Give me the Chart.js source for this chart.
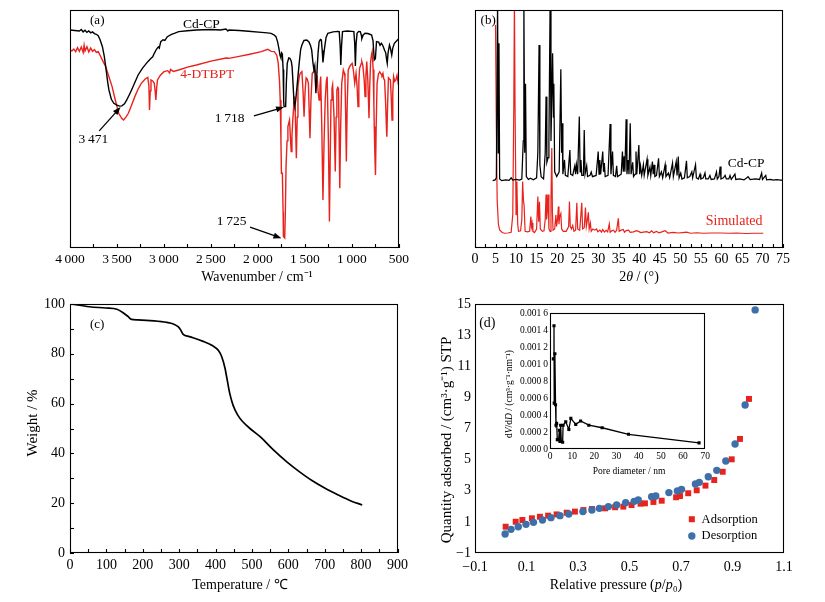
<!DOCTYPE html>
<html>
<head>
<meta charset="utf-8">
<script src="https://cdn.jsdelivr.net/npm/chart.js@4.4.1/dist/chart.umd.min.js"></script>
<style>
  html, body { margin: 0; padding: 0; background: #fff; }
  #fig { position: relative; width: 825px; height: 602px; overflow: hidden; background: #fff; }
  canvas { position: absolute; }
</style>
</head>
<body>
<div id="fig">
  <canvas id="irChart" width="412" height="290" style="left:0;top:0;width:412px;height:290px"></canvas>
  <canvas id="xrdChart" width="413" height="290" style="left:412px;top:0;width:413px;height:290px"></canvas>
  <canvas id="tgaChart" width="412" height="312" style="left:0;top:290px;width:412px;height:312px"></canvas>
  <canvas id="betChart" width="413" height="312" style="left:412px;top:290px;width:413px;height:312px"></canvas>
  <canvas id="poreChart" width="212" height="175" style="left:500px;top:305px;width:212px;height:175px"></canvas>
</div>
<script>
// (a) FTIR, [wavenumber, relative transmittance]
const irCdCP = [
  [4000, 91.6], [3950, 91.4], [3900, 91.2], [3880, 91.8], [3860, 90.8], [3840, 91.5], [3820, 90.6],
  [3800, 91.2], [3780, 90.4], [3760, 90.8], [3740, 90.1], [3720, 89.8], [3700, 89.2], [3680, 87.5],
  [3655, 84.6], [3635, 80.5], [3620, 76.2], [3600, 70], [3586, 66.4], [3560, 62.5], [3534, 60.8],
  [3500, 60.0], [3471, 59.6], [3448, 59.7], [3420, 60.6], [3396, 62.2], [3370, 64.3], [3345, 66.4],
  [3310, 69.5], [3275, 72.7], [3230, 75.5], [3172, 78.3], [3140, 79.6], [3120, 80.3], [3103, 81.8],
  [3080, 83.5], [3060, 84.5], [3050, 84], [3034, 86.7], [3010, 87.5], [2990, 87.2], [2964, 88.8],
  [2920, 89.8], [2890, 90.2], [2843, 90.9], [2750, 91.3], [2654, 91.6], [2500, 91.8], [2400, 91.6],
  [2340, 92.0], [2320, 91.2], [2309, 91.6], [2200, 91.4], [2100, 91.1], [1963, 90.6], [1900, 90.4],
  [1860, 90.2], [1830, 89.6], [1808, 88.8], [1790, 86.5], [1774, 83.2], [1765, 81], [1756, 80],
  [1748, 82], [1740, 81.5], [1732, 75], [1726, 62], [1722, 59.4], [1705, 59.4], [1697, 70],
  [1688, 77.6], [1672, 79.9], [1660, 79.7], [1645, 78.5], [1636, 76], [1625, 68], [1615, 60.5],
  [1608, 59.4], [1598, 62], [1584, 67.8], [1560, 78], [1545, 83.5], [1532, 85.3], [1510, 87.2],
  [1480, 87.4], [1455, 86.5], [1440, 85], [1428, 83.2], [1415, 78], [1404, 74.8], [1395, 76.5],
  [1390, 71], [1383, 65], [1376, 70], [1369, 76], [1360, 82], [1349, 86.7], [1335, 87.6], [1325, 87.4],
  [1316, 83], [1308, 78], [1300, 81], [1291, 84], [1275, 88.5], [1256, 90.2], [1200, 90.8],
  [1150, 91], [1135, 90.9], [1125, 85], [1118, 76.9], [1110, 85], [1100, 90.9], [1050, 91.2],
  [1000, 91.0], [979, 90.9], [970, 86], [963, 76.5], [955, 86], [945, 90.2], [928, 91], [911, 90.9],
  [900, 89.5], [894, 88], [880, 89.5], [860, 90.2], [830, 90.1], [810, 89.8], [790, 89.5], [775, 87],
  [762, 79], [750, 79.5], [738, 86.7], [715, 86.5], [700, 85.2], [686, 86], [670, 85], [651, 83],
  [640, 82], [630, 79], [624, 77.6], [615, 82], [600, 85.3], [590, 84], [576, 81.1], [565, 84],
  [548, 86], [525, 87], [510, 87.6], [500, 88]
];
const irLigand = [
  [4000, 83.2], [3980, 82.8], [3960, 83.6], [3940, 82.5], [3920, 84.2], [3900, 82.6], [3880, 84.5],
  [3860, 82.2], [3850, 85.2], [3840, 82.8], [3820, 84.6], [3800, 82.4], [3780, 84], [3760, 82.6],
  [3740, 83.4], [3720, 82.2], [3700, 82.5], [3680, 81], [3650, 78.5], [3620, 76.2], [3590, 72.5],
  [3552, 67.8], [3520, 62.5], [3482, 56.6], [3450, 54.5], [3430, 53.8], [3405, 55], [3379, 56.6],
  [3345, 60], [3310, 63.6], [3275, 66.8], [3241, 69.2], [3200, 71], [3172, 71.7], [3160, 68],
  [3154, 58], [3146, 66], [3138, 70.6], [3120, 70.2], [3103, 69.2], [3094, 66], [3086, 62.2],
  [3078, 67], [3069, 70.6], [3040, 72.5], [3000, 74.1], [2960, 74.5], [2940, 73.5], [2930, 75],
  [2900, 74.2], [2843, 74.8], [2750, 76], [2654, 76.9], [2500, 78.5], [2340, 79.8], [2309, 79.7],
  [2200, 80.5], [2100, 81.3], [1963, 82.5], [1895, 83.5], [1860, 82.6], [1826, 82.5], [1800, 81],
  [1785, 78], [1770, 70], [1763, 62.2], [1755, 45], [1750, 31.4], [1740, 31.4], [1732, 15],
  [1729, 4.8], [1715, 4.2], [1708, 15], [1701, 34.2], [1690, 45], [1681, 51], [1672, 52.5],
  [1664, 53.8], [1655, 47], [1646, 40.5], [1638, 47], [1629, 53.8], [1618, 60], [1608, 63.6],
  [1600, 52], [1591, 37.7], [1582, 55], [1574, 67.8], [1560, 72], [1550, 73.4], [1532, 74.1],
  [1520, 66], [1509, 55.2], [1498, 66], [1487, 71.5], [1475, 71], [1463, 69.2], [1455, 58],
  [1446, 46.1], [1436, 62], [1422, 73.4], [1405, 74.2], [1394, 74.8], [1382, 73], [1370, 72],
  [1360, 66], [1349, 62.2], [1340, 68], [1332, 72], [1320, 50], [1308, 20.2], [1296, 45],
  [1284, 62.2], [1272, 70], [1263, 72], [1250, 45], [1239, 11.1], [1230, 40], [1222, 62.2],
  [1212, 67], [1205, 68.5], [1190, 55], [1177, 32.1], [1168, 55], [1160, 66.4], [1150, 67.5],
  [1143, 67], [1135, 45], [1129, 25.1], [1120, 50], [1108, 69.2], [1091, 74.8], [1080, 73.5],
  [1074, 72], [1066, 55], [1059, 36.3], [1050, 60], [1039, 74.8], [1020, 76.5], [997, 77.6],
  [985, 75], [970, 69.2], [956, 73.4], [945, 68], [935, 59.4], [926, 70], [918, 75.5], [900, 77.5],
  [894, 78.3], [885, 77], [877, 74], [868, 70], [860, 63.6], [851, 72], [842, 78.3], [830, 70],
  [818, 54.5], [810, 68], [801, 78.3], [790, 81.5], [784, 82.5], [774, 75], [766, 60], [762, 51],
  [756, 40], [749, 30.7], [742, 50], [732, 69.2], [718, 73], [704, 74], [690, 73.2], [680, 72.5],
  [670, 73.4], [660, 71], [652, 70.6], [640, 60], [632, 50], [628, 46.8], [620, 60], [611, 71.5],
  [600, 71], [590, 70.6], [580, 62], [573, 53.8], [565, 65], [556, 72], [545, 70], [532, 70.6],
  [520, 72.5], [510, 70], [500, 72]
];

// (b) PXRD, [2theta, intensity]
const xrdCdCP = [
  [4.3, 28.3], [4.9, 28.6], [5.2, 29.5], [5.5, 105], [5.65, 40], [5.84, 86], [6.0, 29], [6.5, 28.3],
  [7.5, 28.6], [8.3, 28.4], [8.8, 29.5], [9.2, 28.5], [10.0, 28.8], [10.8, 28.5], [11.4, 29],
  [11.75, 45], [11.9, 105], [12.1, 40], [12.3, 69], [12.5, 30], [13.0, 28.8], [13.5, 29.3],
  [14.2, 28.7], [15.0, 29.5], [15.3, 40], [15.6, 85.3], [15.8, 35], [16.1, 30], [16.7, 29],
  [17.1, 40], [17.3, 63.6], [17.5, 36], [17.8, 38], [18.0, 45], [18.3, 105], [18.5, 45],
  [18.9, 81.8], [19.1, 55], [19.2, 69], [19.4, 32], [19.9, 30], [20.5, 32], [20.9, 75.1],
  [21.1, 40], [21.2, 52.4], [21.4, 31], [21.8, 37], [22.0, 30.5], [22.6, 30], [23.1, 41.2],
  [23.3, 31], [23.8, 30.5], [24.1, 33], [24.3, 34.5], [24.5, 31], [24.7, 35], [25.0, 31],
  [25.4, 55.2], [25.6, 32], [25.8, 37], [26.0, 30.5], [26.4, 30.5], [26.6, 49.6], [26.8, 31],
  [27.2, 34.5], [27.4, 30], [28.0, 30.5], [28.3, 31.9], [28.6, 30], [29.5, 30.5], [30.0, 40.5],
  [30.2, 31], [30.4, 37], [30.6, 31], [31.1, 40.5], [31.3, 32], [31.5, 35.7], [31.7, 30],
  [32.4, 30.5], [32.9, 52.1], [33.1, 31], [33.5, 40.5], [33.7, 30.5], [34.2, 30], [34.5, 34.5],
  [34.7, 30], [35.6, 31], [35.9, 40.5], [36.1, 32], [36.3, 38.5], [36.5, 32], [36.8, 54.1],
  [37.0, 31], [37.3, 37], [37.5, 31], [37.8, 52.4], [38.0, 31], [38.4, 36], [38.6, 30],
  [39.0, 31], [39.2, 40.5], [39.4, 31], [39.9, 43.3], [40.1, 31], [40.3, 34.5], [40.6, 30.5],
  [41.0, 35], [41.2, 30.5], [41.9, 37.3], [42.1, 30.5], [42.6, 34], [42.8, 30.5], [43.2, 36.3],
  [43.4, 31], [43.6, 35], [43.8, 30], [44.2, 30.5], [44.7, 37.7], [44.9, 30], [45.4, 32],
  [45.7, 29.5], [46.3, 35], [46.5, 30], [47.1, 31.5], [47.4, 29.5], [48.1, 35.7], [48.3, 30],
  [49.0, 36.3], [49.2, 30.5], [49.5, 38.4], [49.7, 29.5], [50.1, 31.5], [50.4, 29], [51.0, 29.5],
  [51.5, 36.6], [51.7, 29.5], [52.3, 30], [52.8, 32], [53.0, 29.5], [53.7, 35], [53.9, 29.5],
  [54.4, 29], [54.8, 31], [55.0, 29], [55.6, 29.5], [56.0, 31.5], [56.2, 29], [56.8, 29],
  [57.2, 30.5], [57.5, 28.8], [58.3, 29], [58.8, 32], [59.0, 29], [59.4, 30], [59.7, 34.2],
  [59.9, 29], [60.5, 29.5], [60.9, 30.5], [61.2, 29], [61.8, 29], [62.1, 30.5], [62.4, 28.8],
  [63.3, 31], [63.5, 28.8], [64.5, 29], [65.5, 28.6], [66.2, 29.5], [66.5, 30], [67.0, 28.7],
  [68.2, 29], [69.3, 28.8], [69.8, 31.5], [70.0, 28.8], [70.8, 30.5], [71.0, 28.6], [72.0, 28.8],
  [72.6, 28.5], [73.5, 28.7], [74.9, 28.4]
];
const xrdSimulated = [
  [5.0, 93.7], [5.2, 50], [5.4, 20], [5.7, 10], [6.0, 7.6], [6.6, 6.5], [7.2, 6.2], [8.0, 6.3],
  [8.8, 6.6], [9.2, 14], [9.45, 60], [9.6, 105], [9.75, 60], [10.0, 14], [10.2, 27.9], [10.4, 10],
  [10.6, 7], [11.1, 7.2], [11.4, 12], [11.6, 27.9], [11.8, 20], [11.95, 18], [12.2, 7], [12.8, 6.8],
  [13.3, 7], [13.6, 13.2], [13.75, 9], [13.9, 10.5], [14.1, 7], [14.5, 6.5], [15.0, 8], [15.3, 21.6],
  [15.5, 11], [15.7, 19.4], [15.9, 8], [16.4, 7], [16.8, 7.2], [17.1, 12], [17.3, 22.5], [17.45, 12],
  [17.55, 14], [17.8, 22.5], [18.0, 8], [18.3, 7], [18.5, 20], [18.7, 42], [18.85, 15], [19.0, 7.5],
  [19.4, 8], [19.7, 13.9], [19.85, 9], [20.1, 12], [20.3, 17.4], [20.45, 10], [20.6, 13],
  [20.9, 14.5], [21.1, 8], [21.5, 7], [22.2, 7], [22.8, 9], [23.0, 19.5], [23.2, 9], [23.5, 8],
  [23.8, 9.5], [24.1, 7], [24.5, 7.5], [24.8, 19], [25.0, 8], [25.5, 7.5], [26.0, 19], [26.2, 8],
  [26.6, 8.5], [26.9, 17], [27.1, 9], [27.3, 11], [27.6, 15], [27.8, 8], [28.1, 10.5], [28.3, 7],
  [28.7, 8], [29.2, 7.5], [29.6, 8], [29.9, 6.8], [30.4, 7.5], [30.8, 6.7], [31.1, 7.8], [31.5, 6.7],
  [31.9, 7.4], [32.3, 6.8], [32.7, 10.1], [32.9, 6.6], [33.3, 7.2], [33.7, 7.5], [34.1, 6.6],
  [34.5, 7.5], [34.9, 12.5], [35.1, 7], [35.6, 7.5], [36.1, 7.8], [36.4, 6.6], [36.8, 7.3],
  [37.4, 7.5], [37.8, 6.6], [38.6, 6.8], [39.3, 7.3], [39.8, 7.0], [40.4, 6.5], [41.0, 6.7],
  [41.8, 6.9], [42.5, 6.4], [43.0, 7.2], [43.5, 6.4], [44.2, 7.0], [44.8, 6.4], [45.5, 6.8],
  [46.3, 7.3], [47.0, 6.3], [48.3, 6.6], [49.5, 6.3], [50.5, 6.5], [51.5, 6.7], [52.5, 6.2],
  [54.0, 6.4], [55.6, 6.2], [57.5, 6.3], [59.7, 6.3], [62.0, 6.2], [63.7, 6.3], [66.0, 6.1],
  [68.0, 6.2], [70.2, 6.2]
];

// (c) TGA
const tgaTemp = [5, 53, 98, 129, 146, 160, 169, 186, 231, 266, 284, 297, 304, 311, 328, 364, 391, 408,
  417, 426, 432, 439, 448, 461, 475, 497, 524, 559, 595, 630, 666, 701, 737, 772, 803];
const tgaWeight = [100, 98.9, 98.4, 97.9, 96.5, 94.9, 93.8, 93.6, 93.2, 92.6, 92.0, 90.9, 89.6, 87.8,
  86.9, 85.1, 83.3, 81.3, 78.8, 74.2, 69.5, 64.1, 59.4, 55.4, 52.7, 49.7, 46.5, 41.4, 36.7, 32.7,
  29.0, 26.0, 23.3, 20.9, 19.3];

// (d) N2 isotherm
const adsP = [0.019, 0.058, 0.084, 0.121, 0.152, 0.184, 0.217, 0.256, 0.288, 0.321, 0.354, 0.405, 0.444,
  0.476, 0.508, 0.543, 0.560, 0.593, 0.625, 0.681, 0.696, 0.728, 0.761, 0.795, 0.829, 0.862, 0.897,
  0.929, 0.964];
const adsQ = [0.69, 1.01, 1.12, 1.23, 1.33, 1.40, 1.48, 1.59, 1.66, 1.76, 1.83, 1.87, 1.94, 1.98, 2.08,
  2.17, 2.19, 2.28, 2.36, 2.58, 2.66, 2.84, 3.03, 3.33, 3.69, 4.22, 5.02, 6.33, 8.9];
const desP = [0.017, 0.040, 0.068, 0.098, 0.127, 0.162, 0.195, 0.230, 0.264, 0.319, 0.354, 0.383, 0.418,
  0.450, 0.485, 0.518, 0.534, 0.586, 0.602, 0.653, 0.686, 0.702, 0.756, 0.771, 0.806, 0.839, 0.874,
  0.910, 0.949, 0.988];
const desQ = [0.22, 0.52, 0.69, 0.84, 0.97, 1.12, 1.27, 1.40, 1.51, 1.66, 1.76, 1.87, 1.98, 2.08, 2.23,
  2.32, 2.41, 2.62, 2.66, 2.88, 2.98, 3.09, 3.43, 3.54, 3.90, 4.31, 4.91, 6.0, 8.51, 14.62];

// (d) inset, pore size distribution
const poreD = [1.5, 1.8, 1.9, 2.2, 2.5, 2.7, 3.0, 3.3, 3.9, 4.2, 4.5, 4.8, 5.1, 5.7, 5.9, 7.1, 8.5, 9.4,
  11.6, 13.8, 17.5, 23.5, 35.4, 67.2];
const poreV = [0.00106, 0.00145, 0.00054, 0.00112, 0.00052, 0.00028, 0.00030, 0.00011, 0.00011, 0.00022,
  0.00009, 0.00028, 0.00009, 0.00008, 0.00028, 0.00032, 0.00023, 0.00036, 0.00029, 0.00033, 0.00028,
  0.00025, 0.000173, 0.000072];

const serif = '"Liberation Serif", "Times New Roman", serif';
const RED = '#e8221c';
const BLUE = '#3f6fa8';
const TS = '\u2009';

const fmtSpaced = v => { const s = String(v); return v >= 1000 ? s.slice(0, -3) + TS + s.slice(-3) : s; };
const fmtMinus = d => v => Number(v).toFixed(d).replace('-', '\u2212');
const fmtPore = v => { const s = Number(v).toFixed(4); return s.slice(0, 5) + TS + s.slice(5); };

function linAxis(min, max, step, o) {
  return {
    type: 'linear', min, max,
    reverse: !!o.reverse,
    grid: { display: false, drawTicks: false },
    border: { display: false },
    ticks: {
      display: o.labels !== false,
      stepSize: step,
      autoSkip: false,
      maxRotation: 0,
      padding: o.pad ?? 3,
      color: '#000',
      font: { family: serif, size: o.size || 14 },
      callback: o.fmt || (v => v)
    },
    afterFit(s) { if (s.isHorizontal()) s.height = o.fit; else s.width = o.fit; }
  };
}

// draw text made of plain / italic pieces, centred (or left aligned) on x,y
function drawRich(ctx, parts, x, y, size, rot, color, align) {
  ctx.save();
  ctx.translate(x, y);
  if (rot) ctx.rotate(rot);
  ctx.fillStyle = color || '#000';
  ctx.textBaseline = 'middle';
  ctx.textAlign = 'left';
  const fonts = parts.map(p => (p[1] ? 'italic ' : '') + size + 'px ' + serif);
  let total = 0;
  parts.forEach((p, i) => { ctx.font = fonts[i]; total += ctx.measureText(p[0]).width; });
  let cx = align === 'left' ? 0 : -total / 2;
  parts.forEach((p, i) => { ctx.font = fonts[i]; ctx.fillText(p[0], cx, 0); cx += ctx.measureText(p[0]).width; });
  ctx.restore();
}

// frame, inward ticks, labels, arrows and legends for each panel
const decoSpecs = {
  irChart: {
    xTick: 250,
    titles: [{ parts: [['Wavenumber / cm\u207B\u00B9']], x: 257, y: 277, size: 14 }],
    texts: [
      { parts: [['(a)']], x: 3710, y: 95.4, size: 13 },
      { parts: [['Cd-CP']], x: 2602, y: 94.1, size: 13.5 },
      { parts: [['4-DTBPT']], x: 2540, y: 73.1, size: 13.5, color: RED },
      { parts: [['3' + TS + '471']], x: 3751, y: 45.8, size: 13.5 },
      { parts: [['1' + TS + '718']], x: 2302, y: 54.6, size: 13.5 },
      { parts: [['1' + TS + '725']], x: 2281, y: 11.3, size: 13.5 }
    ],
    arrows: [
      { from: [3689, 49.2], to: [3462, 59.2] },
      { from: [2043, 55.5], to: [1722, 59.2] },
      { from: [2084, 8.8], to: [1750, 4.1] }
    ]
  },
  xrdChart: {
    xTick: 2.5,
    titles: [{ parts: [['2'], ['\u03B8', true], [' / (\u00B0)']], x: 227, y: 277, size: 14 }],
    texts: [
      { parts: [['(b)']], x: 3.2, y: 95.4, size: 13 },
      { parts: [['Cd-CP']], x: 66.0, y: 35.7, size: 13.5 },
      { parts: [['Simulated']], x: 63.1, y: 11.3, size: 14, color: RED }
    ]
  },
  tgaChart: {
    xTick: 50, yTick: 10,
    titles: [
      { parts: [['Temperature / \u2103']], x: 240, y: 295, size: 14 },
      { parts: [['Weight / %']], x: 33, y: 133, size: 15, rot: -Math.PI / 2 }
    ],
    texts: [{ parts: [['(c)']], x: 74.5, y: 91.6, size: 13 }]
  },
  betChart: {
    titles: [
      { parts: [['Relative pressure ('], ['p', true], ['/'], ['p', true], ['\u2080)']], x: 204, y: 295, size: 14 },
      { parts: [['Quantity adsorbed / (cm\u00B3\u00B7g\u207B\u00B9) STP']], x: 35, y: 150, size: 15, rot: -Math.PI / 2 }
    ],
    texts: [
      { parts: [['(d)']], x: -0.052, y: 13.76, size: 14 },
      { parts: [['Adsorption']], x: 0.780, y: 1.17, size: 12.5, align: 'left' },
      { parts: [['Desorption']], x: 0.780, y: 0.09, size: 12.5, align: 'left' }
    ],
    legend: [
      { x: 0.742, y: 1.17, style: 'rect', color: RED },
      { x: 0.742, y: 0.09, style: 'circle', color: BLUE }
    ]
  },
  poreChart: {
    fillArea: true,
    titles: [
      { parts: [['Pore diameter / nm']], x: 129, y: 166, size: 9.5 },
      { parts: [['d'], ['V', true], ['/d'], ['D', true], [' / (cm\u00B3\u00B7g\u207B\u00B9\u00B7nm\u207B\u00B9)']], x: 9.5, y: 89, size: 9.5, rot: -Math.PI / 2 }
    ]
  }
};

const deco = {
  id: 'deco',
  beforeDatasetsDraw(chart) {
    const o = decoSpecs[chart.canvas.id];
    if (!o.fillArea) return;
    const a = chart.chartArea, ctx = chart.ctx;
    ctx.save();
    ctx.fillStyle = '#fff';
    ctx.fillRect(a.left, a.top, a.width, a.height);
    ctx.restore();
  },
  afterDraw(chart) {
    const o = decoSpecs[chart.canvas.id];
    const { ctx, chartArea: a } = chart;
    const xs = chart.scales.x, ys = chart.scales.y;
    ctx.save();
    ctx.strokeStyle = '#000';
    ctx.fillStyle = '#000';
    ctx.lineWidth = 1.1;
    if (o.xTick) {
      for (let v = xs.min; v <= xs.max + 1e-9; v += o.xTick) {
        const px = Math.round(xs.getPixelForValue(v)) + 0.5;
        ctx.beginPath(); ctx.moveTo(px, a.bottom); ctx.lineTo(px, a.bottom - 4); ctx.stroke();
      }
    }
    if (o.yTick) {
      for (let v = ys.min; v <= ys.max + 1e-9; v += o.yTick) {
        const py = Math.round(ys.getPixelForValue(v)) + 0.5;
        ctx.beginPath(); ctx.moveTo(a.left, py); ctx.lineTo(a.left + 4, py); ctx.stroke();
      }
    }
    ctx.strokeRect(Math.round(a.left) + 0.5, Math.round(a.top) + 0.5, Math.round(a.width) - 1, Math.round(a.height) - 1);

    (o.arrows || []).forEach(ar => {
      const x1 = xs.getPixelForValue(ar.from[0]), y1 = ys.getPixelForValue(ar.from[1]);
      const x2 = xs.getPixelForValue(ar.to[0]), y2 = ys.getPixelForValue(ar.to[1]);
      const ang = Math.atan2(y2 - y1, x2 - x1);
      ctx.lineWidth = 1.3;
      ctx.beginPath(); ctx.moveTo(x1, y1); ctx.lineTo(x2 - 6 * Math.cos(ang), y2 - 6 * Math.sin(ang)); ctx.stroke();
      ctx.beginPath();
      ctx.moveTo(x2, y2);
      ctx.lineTo(x2 - 8 * Math.cos(ang) + 3 * Math.sin(ang), y2 - 8 * Math.sin(ang) - 3 * Math.cos(ang));
      ctx.lineTo(x2 - 8 * Math.cos(ang) - 3 * Math.sin(ang), y2 - 8 * Math.sin(ang) + 3 * Math.cos(ang));
      ctx.closePath(); ctx.fill();
    });

    (o.legend || []).forEach(l => {
      const px = xs.getPixelForValue(l.x), py = ys.getPixelForValue(l.y);
      ctx.fillStyle = l.color;
      ctx.beginPath();
      if (l.style === 'rect') ctx.rect(px - 3, py - 3, 6, 6);
      else ctx.arc(px, py, 3.7, 0, Math.PI * 2);
      ctx.fill();
    });

    (o.texts || []).forEach(t => {
      drawRich(ctx, t.parts, xs.getPixelForValue(t.x), ys.getPixelForValue(t.y), t.size, 0, t.color, t.align);
    });
    (o.titles || []).forEach(t => drawRich(ctx, t.parts, t.x, t.y, t.size, t.rot, t.color));
    ctx.restore();
  }
};

const base = {
  responsive: false,
  animation: false,
  events: [],
  plugins: { legend: { display: false }, tooltip: { enabled: false } }
};

const lineSet = (data, color, width) => ({
  data, borderColor: color, borderWidth: width || 1.4, pointRadius: 0, fill: false
});

new Chart(document.getElementById('irChart'), {
  type: 'line',
  data: { datasets: [lineSet(irCdCP, '#000'), lineSet(irLigand, RED)] },
  options: {
    ...base,
    layout: { padding: { top: 10, right: 4, left: 0, bottom: 0 } },
    scales: {
      x: linAxis(500, 4000, 500, { reverse: true, fit: 42, size: 13.5, fmt: fmtSpaced }),
      y: linAxis(0, 100, 20, { labels: false, fit: 70 })
    }
  },
  plugins: [deco]
});

new Chart(document.getElementById('xrdChart'), {
  type: 'line',
  data: { datasets: [lineSet(xrdCdCP, '#000', 1.25), lineSet(xrdSimulated, RED, 1.2)] },
  options: {
    ...base,
    layout: { padding: { top: 10, right: 42, left: 0, bottom: 0 } },
    scales: {
      x: linAxis(0, 75, 5, { fit: 42, size: 14 }),
      y: linAxis(0, 100, 20, { labels: false, fit: 63 })
    }
  },
  plugins: [deco]
});

new Chart(document.getElementById('tgaChart'), {
  type: 'line',
  data: {
    datasets: [{
      data: tgaTemp.map((t, i) => ({ x: t, y: tgaWeight[i] })),
      borderColor: '#000', borderWidth: 1.7, pointRadius: 0, cubicInterpolationMode: 'monotone'
    }]
  },
  options: {
    ...base,
    layout: { padding: { top: 14, right: 4, left: 0, bottom: 0 } },
    scales: {
      x: linAxis(0, 900, 100, { fit: 49, size: 14, pad: 4 }),
      y: linAxis(0, 100, 20, { fit: 70, size: 14, pad: 5 })
    }
  },
  plugins: [deco]
});

new Chart(document.getElementById('betChart'), {
  type: 'scatter',
  data: {
    datasets: [
      {
        label: 'Desorption',
        data: desP.map((p, i) => ({ x: p, y: desQ[i] })),
        pointStyle: 'circle', pointRadius: 3.7, backgroundColor: BLUE, borderWidth: 0
      },
      {
        label: 'Adsorption',
        data: adsP.map((p, i) => ({ x: p, y: adsQ[i] })),
        pointStyle: 'rect', pointRadius: 4.2, backgroundColor: RED, borderWidth: 0
      }
    ]
  },
  options: {
    ...base,
    layout: { padding: { top: 14, right: 41, left: 0, bottom: 0 } },
    scales: {
      x: linAxis(-0.1, 1.1, 0.2, { fit: 49, size: 14, pad: 6, fmt: fmtMinus(1) }),
      y: linAxis(-1, 15, 2, { fit: 63, size: 14, pad: 4, fmt: fmtMinus(0) })
    }
  },
  plugins: [deco]
});

new Chart(document.getElementById('poreChart'), {
  type: 'line',
  data: {
    datasets: [{
      data: poreD.map((d, i) => ({ x: d, y: poreV[i] })),
      borderColor: '#000', borderWidth: 1.3,
      pointStyle: 'rect', pointRadius: 2.2, backgroundColor: '#000', pointBorderWidth: 0
    }]
  },
  options: {
    ...base,
    layout: { padding: { top: 8, right: 5, left: 0, bottom: 0 } },
    scales: {
      x: linAxis(0, 70, 10, { fit: 31, size: 9.5, pad: 2 }),
      y: linAxis(0, 0.0016, 0.0002, { fit: 50, size: 9.5, pad: 2, fmt: fmtPore })
    }
  },
  plugins: [deco]
});
</script>
</body>
</html>
